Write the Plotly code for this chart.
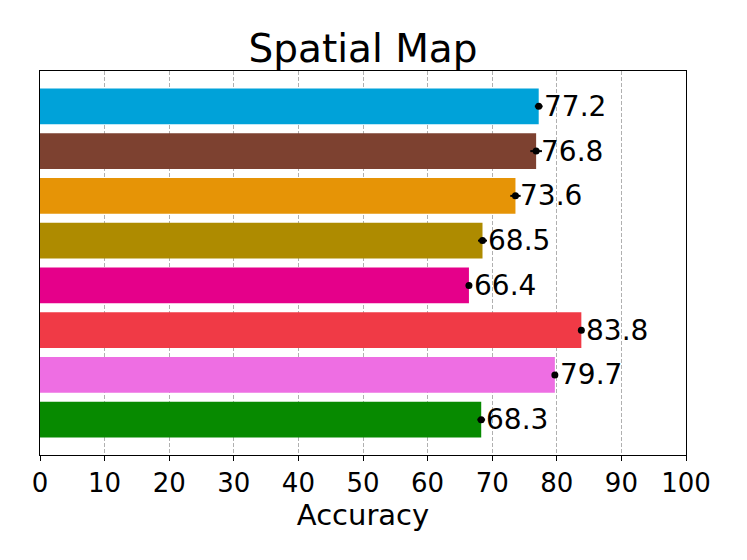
import plotly.graph_objects as go

# bars listed bottom to top
models = ['M1', 'M2', 'M3', 'M4', 'M5', 'M6', 'M7', 'M8']
accuracy = [68.3, 79.7, 83.8, 66.4, 68.5, 73.6, 76.8, 77.2]
errors = [0.6, 0.3, 0.3, 0.3, 0.7, 0.8, 0.9, 0.6]
colors = ['#078A00', '#EE6EE3', '#F03A46', '#E5008A',
          '#AE8B00', '#E69406', '#7D4130', '#00A2D9']
x_ticks = [0, 10, 20, 30, 40, 50, 60, 70, 80, 90, 100]

font_family = 'DejaVu Sans'

fig = go.Figure()

fig.add_trace(go.Bar(
    x=accuracy,
    y=models,
    orientation='h',
    width=0.8,
    marker=dict(color=colors, line=dict(width=0)),
    showlegend=False
))

# error bars with a dot at the bar end
fig.add_trace(go.Scatter(
    x=accuracy,
    y=models,
    mode='markers',
    marker=dict(color='black', size=7),
    error_x=dict(type='data', array=errors, color='black', thickness=2, width=0),
    showlegend=False
))

# value labels
for m, v in zip(models, accuracy):
    fig.add_annotation(
        x=v, y=m, text=f'{v:.1f}',
        xanchor='left', yanchor='middle',
        xshift=3, showarrow=False,
        font=dict(family=font_family, size=28, color='black')
    )

# page body adds an 8px margin, so the figure is 8px smaller
fig.update_layout(
    title=dict(
        text='Spatial Map',
        font=dict(family=font_family, size=39, color='black'),
        x=0.5, xref='paper',
        y=1 - 40 / 552, yref='container', yanchor='middle'
    ),
    xaxis=dict(
        range=[0, 100],
        tickvals=x_ticks,
        tickfont=dict(family=font_family, size=26, color='black'),
        ticks='outside', ticklen=5, tickcolor='black', tickwidth=1.2,
        showgrid=True, gridcolor='#b0b0b0', griddash='4px,2px', gridwidth=1,
        showline=True, linecolor='black', linewidth=1.2, mirror=True,
        zeroline=False,
        title=dict(text='Accuracy', font=dict(family=font_family, size=29, color='black'),
                   standoff=3)
    ),
    yaxis=dict(
        range=[-0.79, 7.79],
        showticklabels=False,
        ticks='',
        showgrid=False,
        showline=True, linecolor='black', linewidth=1.2, mirror=True,
        zeroline=False
    ),
    plot_bgcolor='white',
    paper_bgcolor='white',
    width=739,
    height=552,
    margin=dict(l=32, r=61, t=63, b=105)
)

fig.write_html("out.html")
